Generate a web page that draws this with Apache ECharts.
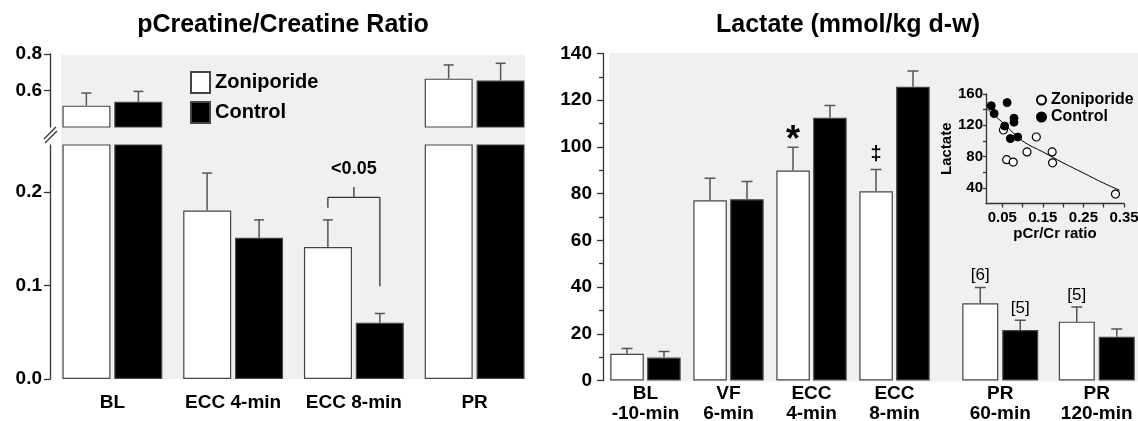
<!DOCTYPE html>
<html><head><meta charset="utf-8">
<script src="https://cdn.jsdelivr.net/npm/echarts@6/dist/echarts.min.js"></script>
<style>html,body{margin:0;padding:0;background:#fff}#c{width:1138px;height:421px}</style>
</head><body><div id="c"></div>
<script>
// ---------- Left panel: pCreatine/Creatine ratio ----------
const pcrCategories = ['BL', 'ECC 4-min', 'ECC 8-min', 'PR'];
const pcrZoniporide = [0.517, 0.180, 0.141, 0.665];
const pcrZoniporideSem = [0.069, 0.040, 0.029, 0.075];
const pcrControl = [0.538, 0.151, 0.060, 0.655];
const pcrControlSem = [0.057, 0.019, 0.010, 0.094];
const pcrLowerTicks = [0, 0.1, 0.2];
const pcrUpperTicks = [0.6, 0.8];
const pcrBracketCategory = 2;
const pcrBracketLevels = [0.183, 0.194, 0.099, 0.205]; // left end, bar, right end, centre tick
const pcrBracketLabel = '<0.05';
const pcrBracketLabelLevel = 0.224;

// ---------- Right panel: Lactate ----------
const lacCategories = ['BL\n-10-min', 'VF\n6-min', 'ECC\n4-min', 'ECC\n8-min', 'PR\n60-min', 'PR\n120-min'];
const lacZoniporide = [11.4, 77.2, 89.9, 81.0, 33.1, 25.2];
const lacZoniporideSem = [2.3, 9.4, 10.0, 9.3, 6.7, 6.3];
const lacControl = [9.8, 77.6, 112.5, 125.8, 21.6, 18.7];
const lacControlSem = [2.6, 7.6, 5.2, 6.7, 4.2, 3.3];
const lacZoniporideNotes = ['', '', '*', '\u2021', '[6]', '[5]'];
const lacControlNotes = ['', '', '', '', '[5]', ''];

// ---------- Inset: Lactate vs pCr/Cr ----------
const insetZoniporide = [[0.053,114],[0.061,76],[0.077,73],[0.111,86],[0.134,105],[0.173,86],[0.174,72],[0.329,32]];
const insetControl = [[0.023,145],[0.030,135],[0.062,149],[0.056,119],[0.079,129],[0.079,124],[0.070,103],[0.088,105]];
const insetFit = [[0.013,141],[0.03,133],[0.05,124],[0.1,100],[0.15,86],[0.2,72],[0.25,59],[0.3,46],[0.339,37]];
const insetXTicks = [0.05,0.10,0.15,0.20,0.25,0.30,0.35];
const insetXLabels = [0.05,0.15,0.25,0.35];
const insetYTicks = [40,60,80,100,120,140,160];
const insetYLabels = [40,80,120,160];

const FONT = "'Liberation Sans', Arial, Helvetica, sans-serif";
const txt = (size, weight) => ({fontFamily: FONT, fontWeight: weight || 'bold', fontSize: size, color: '#000'});
const axLine = {show: true, lineStyle: {color: '#333', width: 1.3}};
const axTick = (vals, len) => ({show: true, length: len, customValues: vals, lineStyle: {color: '#333', width: 1.3}});

function barSeries(name, axis, data, fill, width, gap) {
  return {type: 'bar', name, xAxisIndex: axis, yAxisIndex: axis, data, barWidth: width, barGap: gap,
    clip: true, silent: true, z: 2,
    itemStyle: {color: fill, borderColor: '#444', borderWidth: 1.2}};
}
function noteText(note, x, yTop) {
  let size = 17, weight = 'normal', dy = 12;
  if (note === '*') { size = 36; weight = 'bold'; dy = 6; }
  else if (note === '\u2021') { size = 20; weight = 'bold'; dy = 15; }
  return {type: 'text', x: x, y: yTop - dy, style: {text: note, fontSize: size, fontWeight: weight,
    fontFamily: FONT, fill: '#000', align: 'center', verticalAlign: 'middle'}};
}
function errorSeries(axis, values, sems, offset, cap, notes) {
  return {
    type: 'custom', xAxisIndex: axis, yAxisIndex: axis, clip: true, silent: true, z: 5,
    data: values.map((v, i) => [i, v, sems[i]]),
    renderItem: (params, api) => {
      const i = api.value(0), v = api.value(1), e = api.value(2);
      const b = api.coord([i, v]), t = api.coord([i, v + e]);
      const x = b[0] + offset;
      const st = {stroke: '#555', lineWidth: 1.5};
      const children = [
        {type: 'line', shape: {x1: x, y1: b[1], x2: x, y2: t[1]}, style: st},
        {type: 'line', shape: {x1: x - cap, y1: t[1], x2: x + cap, y2: t[1]}, style: st}
      ];
      const note = notes ? notes[params.dataIndex] : '';
      if (note) children.push(noteText(note, x, t[1]));
      return {type: 'group', children};
    }
  };
}
const bracketSeries = {
  type: 'custom', xAxisIndex: 1, yAxisIndex: 1, silent: true, z: 6,
  data: [[pcrBracketCategory, pcrBracketLevels[1]]],
  renderItem: (params, api) => {
    const cat = api.value(0);
    const c = api.coord([cat, pcrBracketLevels[1]]);
    const xl = c[0] - 26, xr = c[0] + 26, y = c[1];
    const yl = api.coord([cat, pcrBracketLevels[0]])[1];
    const yr = api.coord([cat, pcrBracketLevels[2]])[1];
    const yt = api.coord([cat, pcrBracketLevels[3]])[1];
    const yLab = api.coord([cat, pcrBracketLabelLevel])[1];
    const st = {stroke: '#333', lineWidth: 1.3};
    return {type: 'group', children: [
      {type: 'line', shape: {x1: xl, y1: yl, x2: xl, y2: y}, style: st},
      {type: 'line', shape: {x1: xl, y1: y, x2: xr, y2: y}, style: st},
      {type: 'line', shape: {x1: xr, y1: y, x2: xr, y2: yr}, style: st},
      {type: 'line', shape: {x1: c[0], y1: y, x2: c[0], y2: yt}, style: st},
      {type: 'text', x: c[0], y: yLab, style: {text: pcrBracketLabel, fontSize: 18, fontWeight: 'bold',
        fontFamily: FONT, fill: '#000', align: 'center', verticalAlign: 'middle'}}
    ]};
  }
};

const catLabel = (margin, lh) => Object.assign({interval: 0, margin: margin}, lh ? {lineHeight: lh} : {}, txt(19));

const chart = echarts.init(document.getElementById('c'), null, {renderer: 'canvas'});
chart.setOption({
  animation: false,
  backgroundColor: '#fff',
  graphic: {elements: [
    {type: 'rect', silent: true, z: -10, shape: {x: 61, y: 55, width: 464, height: 324}, style: {fill: '#f0f0f0'}},
    {type: 'rect', silent: true, z: -10, shape: {x: 609, y: 53, width: 529, height: 328.5}, style: {fill: '#f0f0f0'}},
    {type: 'line', silent: true, z: 10, shape: {x1: 44, y1: 139, x2: 56, y2: 127}, style: {stroke: '#333', lineWidth: 1.2}},
    {type: 'line', silent: true, z: 10, shape: {x1: 45, y1: 143, x2: 57, y2: 131}, style: {stroke: '#333', lineWidth: 1.2}},
    {type: 'text', silent: true, x: 283, y: 25, style: {text: 'pCreatine/Creatine Ratio', fontSize: 25, fontWeight: 'bold', fontFamily: FONT, fill: '#000', align: 'center', verticalAlign: 'middle'}},
    {type: 'text', silent: true, x: 848, y: 25, style: {text: 'Lactate (mmol/kg d-w)', fontSize: 25, fontWeight: 'bold', fontFamily: FONT, fill: '#000', align: 'center', verticalAlign: 'middle'}}
  ]},
  legend: [
    {data: ['Zoniporide', 'Control'], orient: 'vertical', left: 185, top: 66, itemWidth: 19, itemHeight: 21,
      itemGap: 7, icon: 'rect', selectedMode: false, textStyle: txt(20)},
    {data: ['Zoniporide (pCr/Cr)', 'Control (pCr/Cr)'], formatter: n => n.replace(' (pCr/Cr)', ''),
      orient: 'vertical', left: 1031, top: 87, itemWidth: 9, itemHeight: 9, itemGap: 1, icon: 'circle',
      selectedMode: false, textStyle: txt(16)}
  ],
  grid: [
    {left: 52, top: 54, width: 483, height: 73, outerBoundsMode: 'none'},
    {left: 52, top: 145, width: 483, height: 234, outerBoundsMode: 'none'},
    {left: 604, top: 53.5, width: 332, height: 327, outerBoundsMode: 'none'},
    {left: 952, top: 53.5, width: 193, height: 327, outerBoundsMode: 'none'},
    {left: 986, top: 94, width: 138, height: 109.5, outerBoundsMode: 'none'}
  ],
  xAxis: [
    {gridIndex: 0, type: 'category', data: pcrCategories, show: false},
    {gridIndex: 1, type: 'category', data: pcrCategories, axisLine: {show: false}, axisTick: {show: false},
      axisLabel: catLabel(14)},
    {gridIndex: 2, type: 'category', data: lacCategories.slice(0, 4), axisLine: {show: false}, axisTick: {show: false},
      axisLabel: catLabel(3, 20)},
    {gridIndex: 3, type: 'category', data: lacCategories.slice(4), axisLine: {show: false}, axisTick: {show: false},
      axisLabel: catLabel(3, 20)},
    {gridIndex: 4, type: 'value', min: 0.01, max: 0.35, axisLine: axLine, axisTick: axTick(insetXTicks, 4),
      splitLine: {show: false},
      axisLabel: Object.assign({customValues: insetXLabels, margin: 7, formatter: v => v.toFixed(2)}, txt(15)),
      name: 'pCr/Cr ratio', nameLocation: 'middle', nameGap: 22, nameTextStyle: txt(15)}
  ],
  yAxis: [
    {gridIndex: 0, type: 'value', min: 0.4, max: 0.8, offset: 2, axisLine: axLine, axisTick: axTick(pcrUpperTicks, 6),
      splitLine: {show: false},
      axisLabel: Object.assign({customValues: pcrUpperTicks, margin: 8, formatter: v => v.toFixed(1)}, txt(19))},
    {gridIndex: 1, type: 'value', min: 0, max: 0.25, offset: 2, axisLine: axLine, axisTick: axTick(pcrLowerTicks, 6),
      splitLine: {show: false},
      axisLabel: Object.assign({customValues: pcrLowerTicks, margin: 8, formatter: v => v.toFixed(1)}, txt(19))},
    {gridIndex: 2, type: 'value', min: 0, max: 140, interval: 20, offset: 1, axisLine: axLine,
      axisTick: {show: true, length: 6, lineStyle: {color: '#333', width: 1.3}},
      minorTick: {show: true, splitNumber: 2, length: 4, lineStyle: {color: '#333', width: 1.3}},
      splitLine: {show: false}, minorSplitLine: {show: false},
      axisLabel: Object.assign({margin: 11}, txt(19))},
    {gridIndex: 3, type: 'value', min: 0, max: 140, show: false, splitLine: {show: false}},
    {gridIndex: 4, type: 'value', min: 20, max: 160, axisLine: axLine, axisTick: axTick(insetYTicks, 3),
      splitLine: {show: false},
      axisLabel: Object.assign({customValues: insetYLabels, margin: 3}, txt(15)),
      name: 'Lactate', nameLocation: 'middle', nameRotate: 90, nameGap: 29, nameTextStyle: txt(15)}
  ],
  series: [
    barSeries('Zoniporide', 0, pcrZoniporide, '#fff', 48, '8%'),
    barSeries('Control', 0, pcrControl, '#000', 48, '8%'),
    barSeries('Zoniporide', 1, pcrZoniporide, '#fff', 48, '8%'),
    barSeries('Control', 1, pcrControl, '#000', 48, '8%'),
    errorSeries(0, pcrZoniporide, pcrZoniporideSem, -26, 5),
    errorSeries(0, pcrControl, pcrControlSem, 26, 5),
    errorSeries(1, pcrZoniporide, pcrZoniporideSem, -26, 5),
    errorSeries(1, pcrControl, pcrControlSem, 26, 5),
    bracketSeries,

    barSeries('Zoniporide', 2, lacZoniporide.slice(0, 4), '#fff', 33.5, '10%'),
    barSeries('Control', 2, lacControl.slice(0, 4), '#000', 33.5, '10%'),
    barSeries('Zoniporide', 3, lacZoniporide.slice(4), '#fff', 36, '11%'),
    barSeries('Control', 3, lacControl.slice(4), '#000', 36, '11%'),
    errorSeries(2, lacZoniporide.slice(0, 4), lacZoniporideSem.slice(0, 4), -18.5, 5.5, lacZoniporideNotes.slice(0, 4)),
    errorSeries(2, lacControl.slice(0, 4), lacControlSem.slice(0, 4), 18.5, 5.5, lacControlNotes.slice(0, 4)),
    errorSeries(3, lacZoniporide.slice(4), lacZoniporideSem.slice(4), -20, 5.5, lacZoniporideNotes.slice(4)),
    errorSeries(3, lacControl.slice(4), lacControlSem.slice(4), 20, 5.5, lacControlNotes.slice(4)),

    {type: 'line', name: 'fit', xAxisIndex: 4, yAxisIndex: 4, data: insetFit, smooth: 0.4, symbol: 'none',
      silent: true, z: 3, lineStyle: {color: '#000', width: 1}},
    {type: 'scatter', name: 'Zoniporide (pCr/Cr)', xAxisIndex: 4, yAxisIndex: 4, data: insetZoniporide,
      symbol: 'circle', symbolSize: 8, silent: true, z: 4,
      itemStyle: {color: '#fff', borderColor: '#000', borderWidth: 1.2, opacity: 1}},
    {type: 'scatter', name: 'Control (pCr/Cr)', xAxisIndex: 4, yAxisIndex: 4, data: insetControl,
      symbol: 'circle', symbolSize: 8, silent: true, z: 4,
      itemStyle: {color: '#000', borderColor: '#000', borderWidth: 1, opacity: 1}}
  ]
});
</script></body></html>
